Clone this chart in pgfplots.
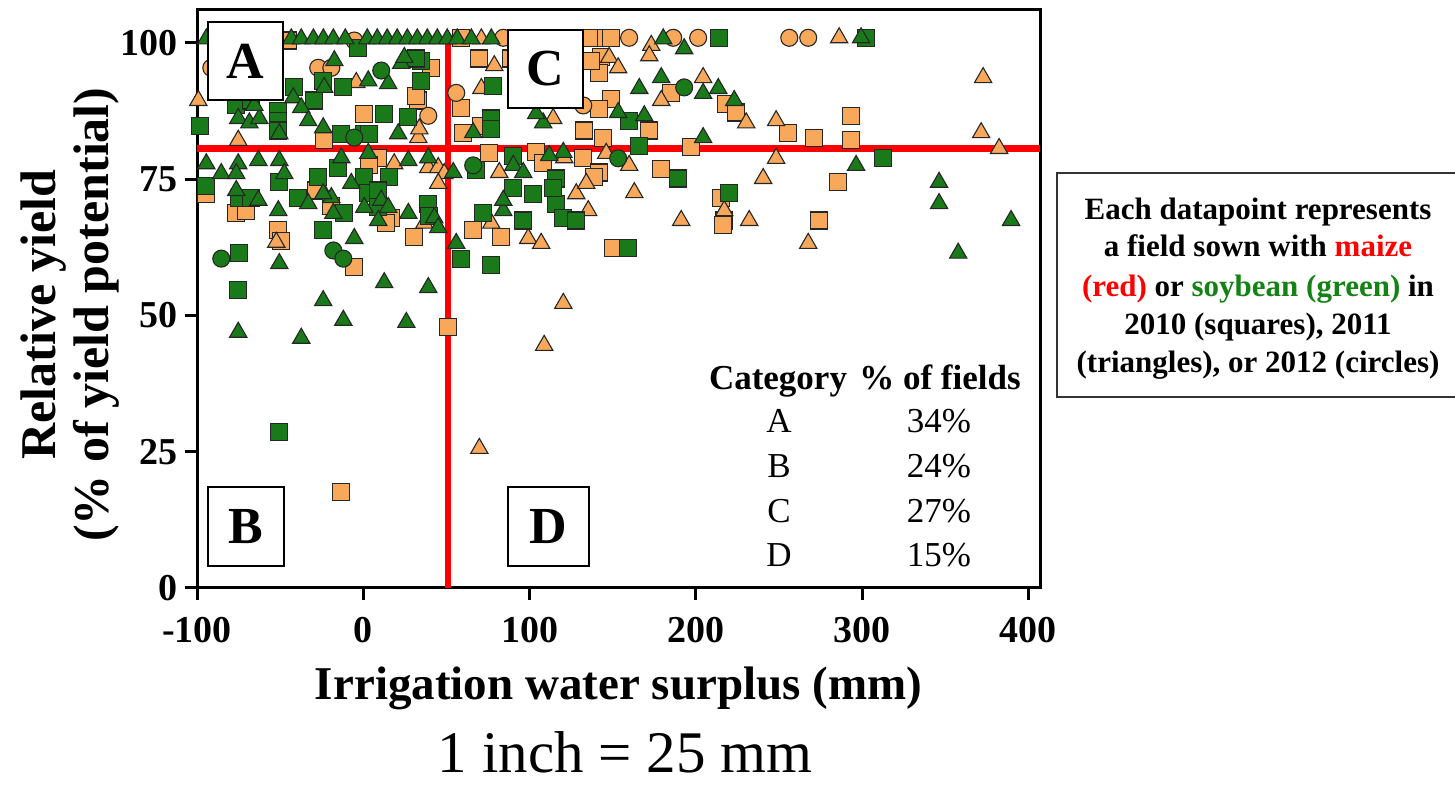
\documentclass[border=0pt]{standalone}
\usepackage{fontspec}
\setmainfont{Liberation Serif}
\usepackage{pgfplots}
\pgfplotsset{compat=1.18}
\definecolor{orf}{RGB}{248,168,90}
\definecolor{grf}{RGB}{26,122,26}
\definecolor{txtgreen}{RGB}{20,130,20}
\begin{document}
\begin{tikzpicture}[x=1pt,y=1pt]
\path[use as bounding box] (0,0) rectangle (1455,786);
\begin{axis}[at={(197pt,198pt)}, anchor=south west, scale only axis,
  width=843pt, height=578pt, xmin=-100, xmax=407, ymin=0, ymax=106, clip=false,
  axis line style={line width=3pt},
  xtick={-100,0,100,200,300,400}, xticklabels={-100,0,100,200,300,400},
  ytick={0,25,50,75,100}, yticklabels={0,25,50,75,100},
  tick align=outside, xtick pos=lower, ytick pos=left, major tick length=12pt,
  every tick/.style={black, line width=3pt},
  ticklabel style={font=\bfseries\fontsize{38}{38}\selectfont},
  xticklabel style={yshift=-14pt},
  yticklabel style={xshift=-4pt},
  xlabel={Irrigation water surplus (mm)},
  xlabel style={font=\bfseries\fontsize{47}{50}\selectfont, at={(axis description cs:0.5,0)}, anchor=base, yshift=-112pt},
  ylabel={Relative yield\\(\% of yield potential)},
  ylabel style={font=\bfseries\fontsize{50}{53}\selectfont, align=center, at={(axis description cs:-0.151,0.473)}, anchor=center},
  sqo/.style={only marks, mark=square*, mark size=8.5pt, mark options={fill=orf, draw=black!85, line width=1.1pt}},
  tro/.style={only marks, mark=triangle*, mark size=10pt, mark options={fill=orf, draw=black!85, line width=1.1pt}},
  cio/.style={only marks, mark=*, mark size=8.5pt, mark options={fill=orf, draw=black!85, line width=1.1pt}},
  sqg/.style={only marks, mark=square*, mark size=8.5pt, mark options={fill=grf, draw=black!85, line width=1.1pt}},
  trg/.style={only marks, mark=triangle*, mark size=10pt, mark options={fill=grf, draw=black!85, line width=1.1pt}},
  cig/.style={only marks, mark=*, mark size=8.5pt, mark options={fill=grf, draw=black!85, line width=1.1pt}},
]
% maize 2010 (squares)
\addplot[sqo] coordinates {(-45.1,100.4) (58.9,100.9) (93.8,100.9) (141.3,100.9) (149.1,100.9) (135.9,100.9)
(-76.4,68.7) (-70.4,69.2) (-51.1,65.6) (-49.3,63.7) (-94.4,72.3) (-23.5,82.1) (-5.4,58.8) (-13.2,17.6) (0.6,87.0) (33.1,89.4) (40.9,95.4) (9.0,78.9) (16.8,67.9) (31.9,90.3) (30.7,64.3) (51.1,47.8) (58.9,88.1) (60.1,83.5) (71.0,84.8) (69.8,97.1) (89.0,97.1) (104.0,79.9) (108.2,78.0) (132.3,78.8) (66.1,65.6) (83.0,64.3) (143.1,97.3) (141.9,94.5) (137.1,96.7) (185.2,90.7) (218.3,88.8) (224.3,87.2) (255.6,83.5) (149.1,89.7) (141.9,87.9) (172.0,83.9) (144.3,82.6) (132.9,83.9) (197.2,80.8) (179.2,76.9) (141.9,76.2) (138.9,75.3) (293.4,86.6) (293.4,82.1) (285.6,74.4) (274.2,67.4) (271.2,82.6) (217.1,67.4) (215.3,71.6) (216.5,66.5) (150.3,62.3) (-28.3,72.9) (-19.2,70.1) (13.8,67.0) (3.6,77.5) (75.8,79.7)};
% maize 2011 (triangles)
\addplot[tro] coordinates {(71.0,100.7) (173.2,99.5) (286.2,100.9) (-99.2,89.4) (-75.2,82.1) (-23.5,72.3) (33.1,82.6) (18.6,77.8) (39.1,77.1) (45.1,77.1) (36.7,66.9) (48.7,76.0) (45.1,74.2) (33.7,84.2) (71.0,91.6) (78.8,95.8) (81.8,76.2) (114.2,86.1) (77.0,66.9) (99.2,64.1) (107.0,63.2) (128.1,72.3) (135.3,69.2) (134.1,74.2) (120.3,52.2) (108.8,44.5) (69.8,25.6) (172.0,97.6) (147.9,97.3) (153.3,95.4) (179.2,89.4) (204.4,93.6) (230.3,85.3) (248.3,85.7) (159.9,77.5) (248.3,78.8) (240.5,75.1) (146.1,79.7) (120.9,78.9) (163.0,72.5) (191.2,67.4) (232.1,67.4) (217.1,69.2) (267.6,63.2) (372.8,93.6) (371.6,83.5) (382.4,80.6) (-52.3,63.4) (-4.2,92.7)};
% maize 2012 (circles)
\addplot[cio] coordinates {(-5.4,100.4) (84.2,100.9) (159.9,100.9) (186.4,100.9) (201.4,100.9) (256.2,100.9) (267.6,100.9) (-27.1,95.4) (-19.2,95.4) (39.1,86.6) (55.9,90.8) (-91.4,95.4) (132.3,88.5)};
% soybean 2010 (squares)
\addplot[sqg] coordinates {(-98.0,84.8) (-94.4,73.8) (-76.4,88.5) (-67.3,89.4) (-74.6,71.6) (-67.3,71.6) (-74.6,61.4) (-75.2,54.6) (-51.1,87.5) (-51.1,85.7) (-51.1,83.9) (-50.5,74.4) (-50.5,28.6) (-41.5,91.8) (-29.5,89.4) (-24.1,93.0) (-12.0,91.8) (-13.2,83.3) (0.6,83.3) (-39.1,71.6) (-27.1,75.3) (-24.1,65.6) (-11.4,68.7) (-15.0,77.1) (0.6,75.3) (3.0,72.5) (-3.0,99.1) (34.9,96.7) (34.9,93.0) (12.6,87.0) (27.1,86.3) (15.6,75.3) (9.0,72.9) (39.1,70.5) (31.9,97.1) (39.7,68.3) (78.2,92.1) (77.0,86.1) (77.0,84.2) (67.9,76.6) (90.2,79.3) (116.0,75.1) (58.9,60.4) (77.0,59.2) (72.2,68.7) (90.2,73.4) (102.2,72.3) (96.2,67.4) (116.0,70.5) (120.3,67.9) (128.1,67.4) (114.2,73.4) (159.9,85.7) (166.0,81.1) (189.4,75.1) (214.1,100.9) (159.3,62.3) (220.1,72.5) (312.7,78.8) (302.5,100.9) (9.0,69.8) (3.6,83.3)};
% soybean 2011 (triangles)
\addplot[trg] coordinates {(-94.4,100.7) (-43.3,100.7) (-37.3,100.7) (-30,100.7) (-24,100.7) (-18,100.7) (-10.8,100.7) (2.4,100.7) (8.4,100.7) (14.4,100.7) (20.4,100.7) (26.5,100.7) (32.5,100.7) (38.5,100.7) (44.5,100.7) (50.5,100.7) (56.5,100.7) (65,100.7) (77,100.7) (180.4,100.7) (193,98.9) (299.4,100.9)
(-94.4,77.8) (-85.4,76.0) (-75.2,86.1) (-68.5,85.3) (-62.5,86.1) (-75.2,77.8) (-63.1,78.4) (-76.4,76.0) (-76.4,72.9) (-63.1,71.1) (-75.2,46.9) (-50.5,83.3) (-50.5,78.4) (-47.5,76.0) (-51.1,69.2) (-50.5,59.5) (-42.1,89.9) (-37.3,88.1) (-33.1,85.7) (-23.5,91.8) (-17.4,96.7) (-24.1,84.4) (-33.1,70.5) (-19.2,71.6) (-18.0,68.7) (-13.2,78.9) (-7.2,74.2) (0.6,69.8) (-24.1,52.7) (-12.0,49.1) (-37.3,45.8) (15.0,92.5) (3.0,93.0) (22.8,96.2) (24.7,97.3) (21.0,83.3) (3.0,79.7) (27.1,78.4) (39.1,78.9) (10.8,71.1) (15.0,69.8) (27.1,68.7) (42.7,67.9) (45.1,66.1) (12.6,56.0) (39.1,55.1) (25.9,48.7) (55.9,63.2) (54.1,76.2) (66.1,83.5) (84.2,69.2) (84.2,71.1) (90.2,77.5) (96.2,76.2) (108.2,85.3) (104.0,87.0) (120.3,79.9) (153.3,87.2) (169.0,86.6) (166.0,91.6) (179.2,93.6) (204.4,90.7) (213.5,91.6) (223.1,89.4) (204.4,82.6) (296.4,77.5) (346.3,74.4) (346.3,70.5) (389.6,67.4) (357.8,61.4) (-65.5,88.5) (-5.4,64.1) (9.0,67.4) (-24.1,72.3) (111.8,79.3)};
% soybean 2012 (circles)
\addplot[cig] coordinates {(-85.4,60.4) (-18.0,61.9) (-12.0,60.4) (-5.4,82.6) (10.8,94.9) (66.1,77.5) (153.3,78.8) (193.0,91.8)};
% threshold lines
\addplot[red, line width=6.5pt] coordinates {(-100,80.6) (407,80.6)};
\addplot[red, line width=6.5pt] coordinates {(51,0) (51,100.9)};
\end{axis}
% quadrant boxes
\draw[fill=white, line width=1.5pt] (208,686) rectangle (283,764);
\node[font=\bfseries\fontsize{52}{52}\selectfont] at (245.5,725) {A};
\draw[fill=white, line width=1.5pt] (508,678) rectangle (583,756);
\node[font=\bfseries\fontsize{52}{52}\selectfont] at (545.5,717) {C};
\draw[fill=white, line width=1.5pt] (208,220) rectangle (284,299);
\node[font=\bfseries\fontsize{52}{52}\selectfont] at (246,259.5) {B};
\draw[fill=white, line width=1.5pt] (508,220) rectangle (589,299);
\node[font=\bfseries\fontsize{52}{52}\selectfont] at (548.5,259.5) {D};
% table
\begin{scope}[every node/.style={anchor=base, font=\fontsize{35}{35}\selectfont, inner sep=0pt}]
\node[font=\bfseries\fontsize{35}{35}\selectfont] at (778,396) {Category};
\node[font=\bfseries\fontsize{35}{35}\selectfont] at (940,396) {\% of fields};
\node at (779,353) {A}; \node at (939,353) {34\%};
\node at (779,308) {B}; \node at (939,308) {24\%};
\node at (779,263) {C}; \node at (939,263) {27\%};
\node at (779,219) {D}; \node at (939,219) {15\%};
\end{scope}
% description box
\draw[line width=1.5pt, black!80] (1057,389) rectangle (1470,613);
\begin{scope}[every node/.style={anchor=base, font=\bfseries\fontsize{31}{31}\selectfont, inner sep=0pt}]
\node at (1258,566) {Each datapoint represents};
\node at (1258,529) {a field sown with \textcolor{red}{maize}};
\node at (1258,489) {\textcolor{red}{(red)} or \textcolor{txtgreen}{soybean (green)} in};
\node at (1258,451) {2010 (squares), 2011};
\node at (1258,413) {(triangles), or 2012 (circles)};
\end{scope}
\node[anchor=base, inner sep=0pt, font=\fontsize{59}{59}\selectfont] at (625,13) {1 inch = 25 mm};
\end{tikzpicture}
\end{document}
